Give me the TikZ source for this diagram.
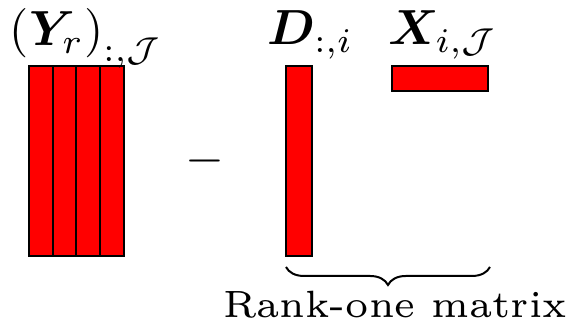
\documentclass[tikz,border=0pt]{standalone}
\usepackage{amsmath,amssymb,bm,graphicx}
\usetikzlibrary{decorations.pathreplacing}
\newcommand{\lblsz}[1]{\scalebox{0.74}{\fontsize{10}{12}\selectfont #1}}
\tikzset{
  blk/.style={draw=black, fill=red, line width=0.3pt, inner sep=0pt, outer sep=0pt, anchor=north west},
  lbl/.style={inner sep=0pt, outer sep=0pt},
  captext/.style={inner sep=0pt, outer sep=0pt, font=\fontsize{5.7}{6.5}\selectfont},
  bracestyle/.style={decorate, decoration={brace, mirror, amplitude=2.7pt}, line width=0.3pt}
}
\begin{document}
\begin{tikzpicture}[x=0.15pt,y=-0.15pt]
\useasboundingbox (0,0) rectangle (572,331);
% left block: four columns
\node[blk, minimum width=3.5625pt, minimum height=28.5pt] (c1) at (29,66) {};
\node[blk, minimum width=3.5625pt, minimum height=28.5pt] (c2) at (52.75,66) {};
\node[blk, minimum width=3.5625pt, minimum height=28.5pt] (c3) at (76.5,66) {};
\node[blk, minimum width=3.5625pt, minimum height=28.5pt] (c4) at (100.25,66) {};
% D column
\node[blk, minimum width=3.9pt, minimum height=28.5pt] (dcol) at (286,66) {};
% X row
\node[blk, minimum width=14.4pt, minimum height=3.75pt] (xrow) at (392,66) {};
% labels
\node[lbl, anchor=base west] (ylbl) at (10,46) {\lblsz{$(\boldsymbol{Y}_r)_{\raisebox{-1.6pt}{$\scriptstyle :,\mathcal{J}$}}$}};
\node[lbl, anchor=base west] (dlbl) at (268,45) {\lblsz{$\boldsymbol{D}_{:,i}$}};
\node[lbl, anchor=base west] (xlbl) at (389,45) {\lblsz{$\boldsymbol{X}_{i,\mathcal{J}}$}};
\node[lbl] (minus) at (205,161) {\scalebox{0.75}{\fontsize{10}{12}\selectfont $-$}};
% brace
\coordinate (bl) at (286,267);
\coordinate (br) at (490,267);
\draw[bracestyle] (bl) -- (br);
\node[captext, anchor=base] (rank) at (395,318) {Rank-one matrix};
\end{tikzpicture}
\end{document}
